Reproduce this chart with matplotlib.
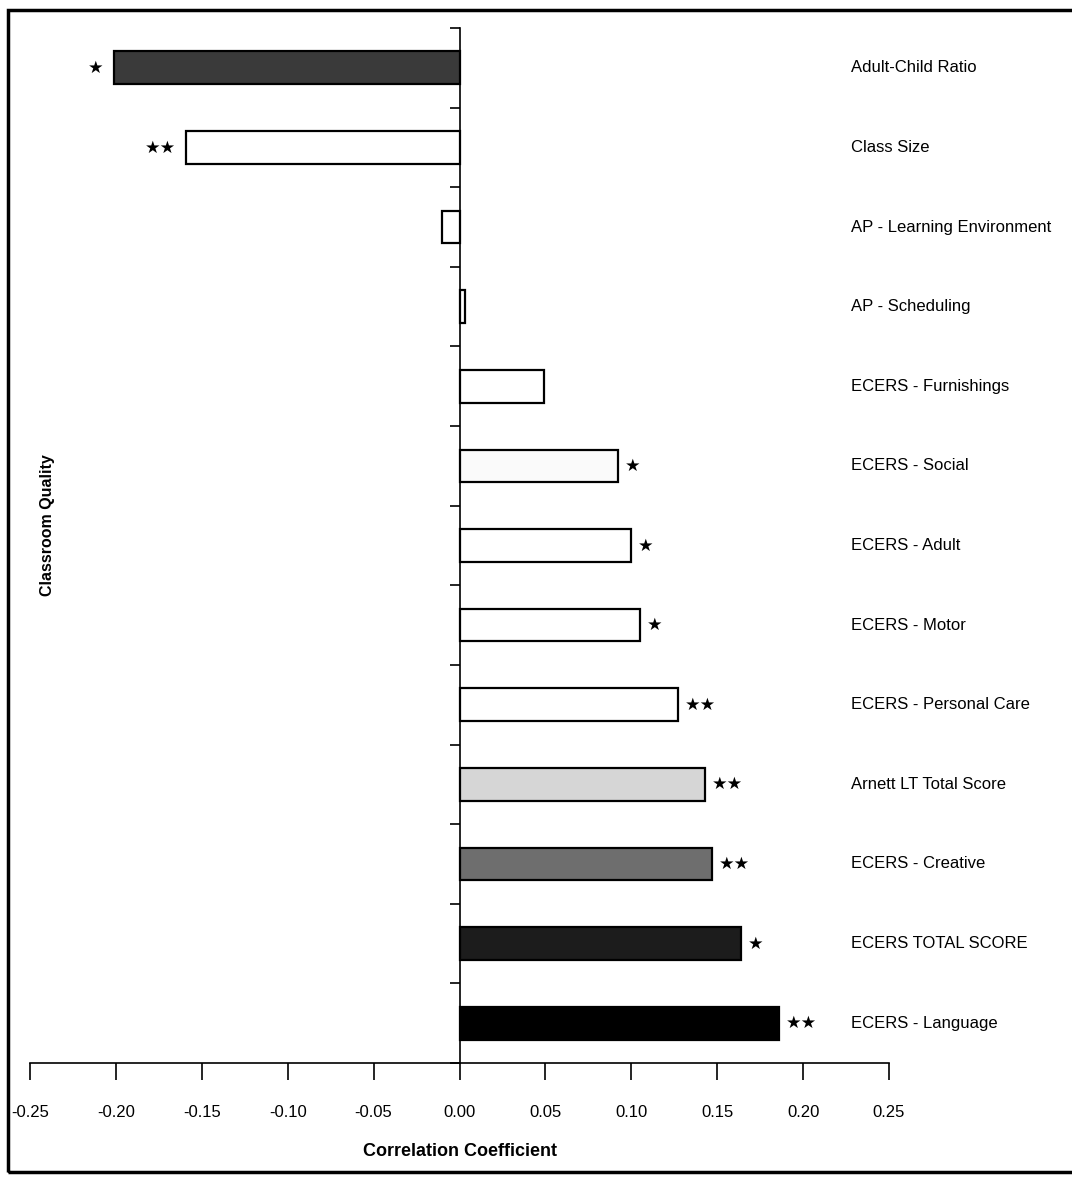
import numpy as np
import matplotlib
matplotlib.use('Agg')
import matplotlib.pyplot as plt
from matplotlib.patches import Rectangle

LABELS = ['Adult-Child Ratio', 'Class Size', 'AP - Learning Environment', 'AP - Scheduling',
          'ECERS - Furnishings', 'ECERS - Social', 'ECERS - Adult', 'ECERS - Motor',
          'ECERS - Personal Care', 'Arnett LT Total Score', 'ECERS - Creative',
          'ECERS TOTAL SCORE', 'ECERS - Language']
VALUES = [-0.201, -0.159, -0.010, 0.003, 0.049, 0.092, 0.100, 0.105, 0.127, 0.143, 0.147, 0.164, 0.186]
STARS = ['*', '**', '', '', '', '*', '*', '*', '**', '**', '**', '*', '**']
FILLS = ['#3a3a3a', 'white', 'white', 'white', 'white', '#fafafa', 'white', 'white', 'white',
         '#d6d6d6', '#6e6e6e', '#1c1c1c', 'black']
XTICKS = [-0.25, -0.20, -0.15, -0.10, -0.05, 0.00, 0.05, 0.10, 0.15, 0.20, 0.25]

FONT = ['Liberation Sans', 'DejaVu Sans']


def main():
    plt.rcParams['font.family'] = FONT
    fig = plt.figure(figsize=(10.72, 11.77), dpi=100)
    ax = fig.add_axes([30 / 1072, 1 - 1063 / 1177, 859 / 1072, 1035 / 1177])

    y = np.arange(len(VALUES))
    ax.barh(y, VALUES, height=0.41, color=FILLS, edgecolor='black', linewidth=1.6, zorder=3)

    # significance stars next to bar ends
    for yi, v, s in zip(y, VALUES, STARS):
        if not s:
            continue
        if v >= 0:
            ax.text(v + 0.004, yi, '\u2605' * len(s), ha='left', va='center', fontsize=12.5,
                    family='DejaVu Sans')
        else:
            ax.text(v - 0.006, yi, '\u2605' * len(s), ha='right', va='center', fontsize=12.5,
                    family='DejaVu Sans')

    # category labels on the right
    for yi, lab in zip(y, LABELS):
        ax.text(0.228, yi, lab, ha='left', va='center', fontsize=12, clip_on=False)

    ax.set_xlim(-0.25, 0.25)
    ax.set_ylim(len(VALUES) - 0.5, -0.5)
    ax.set_xticks(XTICKS)
    ax.set_xticklabels(['%.2f' % t for t in XTICKS], fontsize=12)
    ax.set_yticks(np.arange(-0.5, len(VALUES), 1))
    ax.set_yticklabels([])
    ax.tick_params(axis='x', direction='out', length=12, width=1.2, pad=18)
    ax.tick_params(axis='y', direction='out', length=7, width=1.2)

    ax.spines['left'].set_position(('data', 0))
    ax.spines['right'].set_visible(False)
    ax.spines['top'].set_visible(False)
    ax.spines['left'].set_linewidth(1.2)
    ax.spines['bottom'].set_linewidth(1.2)

    ax.set_xlabel('Correlation Coefficient', fontsize=13, fontweight='bold', labelpad=17)
    fig.text(48 / 1072, 1 - 525 / 1177, 'Classroom Quality', rotation=90, ha='center',
             va='center', fontsize=11.5, fontweight='bold')

    # outer frame
    fig.add_artist(Rectangle((8 / 1072, 1 - 1172 / 1177), 1 - 8 / 1072 + 0.01, (1172 - 10) / 1177,
                             transform=fig.transFigure, fill=False, edgecolor='black', linewidth=2.5))

    fig.savefig('out.png', dpi=100)


if __name__ == '__main__':
    main()
